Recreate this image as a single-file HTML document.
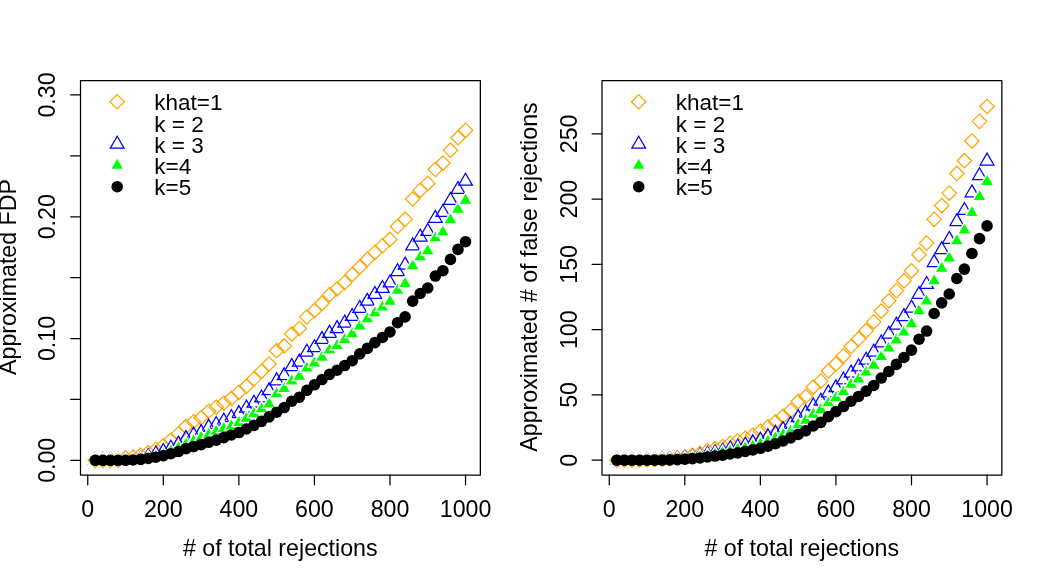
<!DOCTYPE html>
<html><head><meta charset="utf-8"><title>plot</title>
<style>html,body{margin:0;padding:0;background:#fff;}svg{display:block}</style></head>
<body><svg width="1043" height="575" viewBox="0 0 1043 575" style="will-change:transform">
<rect width="1043" height="575" fill="#fff"/>
<g transform="translate(0,0)">
<g fill="none" stroke="#ffa500" stroke-width="1.25">
<path d="M88.10 460.30L95.31 453.09L102.52 460.30L95.31 467.51Z"/>
<path d="M95.65 460.30L102.87 453.09L110.08 460.30L102.87 467.51Z"/>
<path d="M103.21 460.30L110.42 453.09L117.63 460.30L110.42 467.51Z"/>
<path d="M110.76 460.30L117.98 453.09L125.19 460.30L117.98 467.51Z"/>
<path d="M118.32 457.74L125.53 450.53L132.75 457.74L125.53 464.96Z"/>
<path d="M125.88 457.01L133.09 449.80L140.30 457.01L133.09 464.22Z"/>
<path d="M133.43 455.06L140.64 447.85L147.86 455.06L140.64 462.28Z"/>
<path d="M140.99 452.51L148.20 445.29L155.41 452.51L148.20 459.72Z"/>
<path d="M148.54 449.34L155.76 442.13L162.97 449.34L155.76 456.55Z"/>
<path d="M156.10 445.81L163.31 438.60L170.52 445.81L163.31 453.02Z"/>
<path d="M163.65 440.09L170.87 432.87L178.08 440.09L170.87 447.30Z"/>
<path d="M171.21 433.88L178.42 426.66L185.64 433.88L178.42 441.09Z"/>
<path d="M178.77 426.45L185.98 419.24L193.19 426.45L185.98 433.66Z"/>
<path d="M186.32 421.82L193.53 414.61L200.75 421.82L193.53 429.03Z"/>
<path d="M193.88 417.80L201.09 410.59L208.30 417.80L201.09 425.01Z"/>
<path d="M201.43 411.23L208.65 404.01L215.86 411.23L208.65 418.44Z"/>
<path d="M208.99 407.09L216.20 399.87L223.41 407.09L216.20 414.30Z"/>
<path d="M216.55 403.07L223.76 395.86L230.97 403.07L223.76 410.28Z"/>
<path d="M224.10 398.44L231.31 391.23L238.53 398.44L231.31 405.65Z"/>
<path d="M231.66 392.35L238.87 385.14L246.08 392.35L238.87 399.56Z"/>
<path d="M239.21 386.26L246.43 379.05L253.64 386.26L246.43 393.48Z"/>
<path d="M246.77 378.84L253.98 371.62L261.19 378.84L253.98 386.05Z"/>
<path d="M254.32 371.29L261.54 364.07L268.75 371.29L261.54 378.50Z"/>
<path d="M261.88 363.98L269.09 356.77L276.31 363.98L269.09 371.19Z"/>
<path d="M269.44 350.71L276.65 343.49L283.86 350.71L276.65 357.92Z"/>
<path d="M276.99 345.96L284.20 338.75L291.42 345.96L284.20 353.17Z"/>
<path d="M284.55 333.90L291.76 326.69L298.97 333.90L291.76 341.12Z"/>
<path d="M292.10 328.54L299.32 321.33L306.53 328.54L299.32 335.76Z"/>
<path d="M299.66 316.85L306.87 309.64L314.08 316.85L306.87 324.07Z"/>
<path d="M307.22 310.64L314.43 303.43L321.64 310.64L314.43 317.86Z"/>
<path d="M314.77 303.22L321.98 296.00L329.20 303.22L321.98 310.43Z"/>
<path d="M322.33 294.57L329.54 287.36L336.75 294.57L329.54 301.78Z"/>
<path d="M329.88 288.85L337.09 281.64L344.31 288.85L337.09 296.06Z"/>
<path d="M337.44 282.64L344.65 275.43L351.86 282.64L344.65 289.85Z"/>
<path d="M344.99 274.48L352.21 267.27L359.42 274.48L352.21 281.69Z"/>
<path d="M352.55 267.05L359.76 259.84L366.97 267.05L359.76 274.26Z"/>
<path d="M360.11 259.26L367.32 252.05L374.53 259.26L367.32 266.47Z"/>
<path d="M367.66 252.32L374.87 245.10L382.09 252.32L374.87 259.53Z"/>
<path d="M375.22 245.86L382.43 238.65L389.64 245.86L382.43 253.08Z"/>
<path d="M382.77 239.41L389.99 232.20L397.20 239.41L389.99 246.62Z"/>
<path d="M390.33 226.50L397.54 219.29L404.75 226.50L397.54 233.71Z"/>
<path d="M397.88 219.20L405.10 211.98L412.31 219.20L405.10 226.41Z"/>
<path d="M405.44 198.98L412.65 191.77L419.87 198.98L412.65 206.19Z"/>
<path d="M413.00 190.34L420.21 183.12L427.42 190.34L420.21 197.55Z"/>
<path d="M420.55 183.40L427.76 176.18L434.98 183.40L427.76 190.61Z"/>
<path d="M428.11 169.51L435.32 162.30L442.53 169.51L435.32 176.73Z"/>
<path d="M435.66 163.06L442.88 155.85L450.09 163.06L442.88 170.27Z"/>
<path d="M443.22 150.15L450.43 142.94L457.64 150.15L450.43 157.36Z"/>
<path d="M450.78 137.73L457.99 130.52L465.20 137.73L457.99 144.94Z"/>
<path d="M458.33 130.30L465.54 123.09L472.76 130.30L465.54 137.52Z"/>
<path d="M109.99 101.75L117.20 94.54L124.41 101.75L117.20 108.96Z"/>
</g>
<g fill="none" stroke="#0000ff" stroke-width="1.25">
<path d="M95.31 452.37L102.18 464.27L88.44 464.27Z"/>
<path d="M102.87 452.37L109.73 464.27L96.00 464.27Z"/>
<path d="M110.42 452.37L117.29 464.27L103.55 464.27Z"/>
<path d="M117.98 452.37L124.85 464.27L111.11 464.27Z"/>
<path d="M125.53 452.37L132.40 464.27L118.66 464.27Z"/>
<path d="M133.09 452.37L139.96 464.27L126.22 464.27Z"/>
<path d="M140.64 451.03L147.51 462.93L133.78 462.93Z"/>
<path d="M148.20 448.59L155.07 460.49L141.33 460.49Z"/>
<path d="M155.76 446.16L162.62 458.06L148.89 458.06Z"/>
<path d="M163.31 443.60L170.18 455.50L156.44 455.50Z"/>
<path d="M170.87 440.19L177.74 452.09L164.00 452.09Z"/>
<path d="M178.42 436.17L185.29 448.07L171.55 448.07Z"/>
<path d="M185.98 430.57L192.85 442.47L179.11 442.47Z"/>
<path d="M193.53 427.16L200.40 439.06L186.67 439.06Z"/>
<path d="M201.09 424.61L207.96 436.50L194.22 436.50Z"/>
<path d="M208.65 419.37L215.51 431.27L201.78 431.27Z"/>
<path d="M216.20 416.45L223.07 428.34L209.33 428.34Z"/>
<path d="M223.76 413.16L230.63 425.06L216.89 425.06Z"/>
<path d="M231.31 409.63L238.18 421.52L224.45 421.52Z"/>
<path d="M238.87 405.61L245.74 417.51L232.00 417.51Z"/>
<path d="M246.43 400.13L253.29 412.03L239.56 412.03Z"/>
<path d="M253.98 395.26L260.85 407.16L247.11 407.16Z"/>
<path d="M261.54 390.02L268.41 401.92L254.67 401.92Z"/>
<path d="M269.09 382.84L275.96 394.73L262.22 394.73Z"/>
<path d="M276.65 372.85L283.52 384.75L269.78 384.75Z"/>
<path d="M284.20 367.74L291.07 379.64L277.34 379.64Z"/>
<path d="M291.76 358.61L298.63 370.50L284.89 370.50Z"/>
<path d="M299.32 354.10L306.18 366.00L292.45 366.00Z"/>
<path d="M306.87 344.24L313.74 356.13L300.00 356.13Z"/>
<path d="M314.43 339.73L321.30 351.63L307.56 351.63Z"/>
<path d="M321.98 331.57L328.85 343.47L315.11 343.47Z"/>
<path d="M329.54 325.36L336.41 337.26L322.67 337.26Z"/>
<path d="M337.09 320.61L343.96 332.51L330.23 332.51Z"/>
<path d="M344.65 315.13L351.52 327.03L337.78 327.03Z"/>
<path d="M352.21 308.44L359.08 320.33L345.34 320.33Z"/>
<path d="M359.76 300.40L366.63 312.30L352.89 312.30Z"/>
<path d="M367.32 293.34L374.19 305.23L360.45 305.23Z"/>
<path d="M374.87 286.52L381.74 298.41L368.01 298.41Z"/>
<path d="M382.43 280.55L389.30 292.45L375.56 292.45Z"/>
<path d="M389.99 274.95L396.85 286.85L383.12 286.85Z"/>
<path d="M397.54 263.75L404.41 275.64L390.67 275.64Z"/>
<path d="M405.10 257.17L411.97 269.07L398.23 269.07Z"/>
<path d="M412.65 237.93L419.52 249.83L405.78 249.83Z"/>
<path d="M420.21 229.16L427.08 241.06L413.34 241.06Z"/>
<path d="M427.76 223.44L434.63 235.34L420.90 235.34Z"/>
<path d="M435.32 210.41L442.19 222.31L428.45 222.31Z"/>
<path d="M442.88 204.45L449.74 216.34L436.01 216.34Z"/>
<path d="M450.43 192.51L457.30 204.41L443.56 204.41Z"/>
<path d="M457.99 181.55L464.86 193.45L451.12 193.45Z"/>
<path d="M465.54 173.27L472.41 185.17L458.68 185.17Z"/>
<path d="M117.20 136.27L124.07 148.17L110.33 148.17Z"/>
</g>
<g fill="#00ff00" stroke="#fff" stroke-width="1.4">
<path d="M95.31 452.37L102.18 464.27L88.44 464.27Z"/>
<path d="M102.87 452.37L109.73 464.27L96.00 464.27Z"/>
<path d="M110.42 452.37L117.29 464.27L103.55 464.27Z"/>
<path d="M117.98 452.37L124.85 464.27L111.11 464.27Z"/>
<path d="M125.53 452.37L132.40 464.27L118.66 464.27Z"/>
<path d="M133.09 452.37L139.96 464.27L126.22 464.27Z"/>
<path d="M140.64 451.39L147.51 463.29L133.78 463.29Z"/>
<path d="M148.20 450.18L155.07 462.07L141.33 462.07Z"/>
<path d="M155.76 448.59L162.62 460.49L148.89 460.49Z"/>
<path d="M163.31 446.65L170.18 458.54L156.44 458.54Z"/>
<path d="M170.87 443.36L177.74 455.25L164.00 455.25Z"/>
<path d="M178.42 439.95L185.29 451.84L171.55 451.84Z"/>
<path d="M185.98 436.54L192.85 448.44L179.11 448.44Z"/>
<path d="M193.53 433.13L200.40 445.03L186.67 445.03Z"/>
<path d="M201.09 429.72L207.96 441.62L194.22 441.62Z"/>
<path d="M208.65 426.55L215.51 438.45L201.78 438.45Z"/>
<path d="M216.20 423.51L223.07 435.41L209.33 435.41Z"/>
<path d="M223.76 420.71L230.63 432.61L216.89 432.61Z"/>
<path d="M231.31 418.03L238.18 429.93L224.45 429.93Z"/>
<path d="M238.87 414.74L245.74 426.64L232.00 426.64Z"/>
<path d="M246.43 410.60L253.29 422.50L239.56 422.50Z"/>
<path d="M253.98 405.73L260.85 417.63L247.11 417.63Z"/>
<path d="M261.54 401.10L268.41 413.00L254.67 413.00Z"/>
<path d="M269.09 396.23L275.96 408.13L262.22 408.13Z"/>
<path d="M276.65 386.00L283.52 397.90L269.78 397.90Z"/>
<path d="M284.20 380.89L291.07 392.79L277.34 392.79Z"/>
<path d="M291.76 373.22L298.63 385.12L284.89 385.12Z"/>
<path d="M299.32 368.59L306.18 380.49L292.45 380.49Z"/>
<path d="M306.87 360.31L313.74 372.21L300.00 372.21Z"/>
<path d="M314.43 355.20L321.30 367.09L307.56 367.09Z"/>
<path d="M321.98 349.47L328.85 361.37L315.11 361.37Z"/>
<path d="M329.54 342.05L336.41 353.94L322.67 353.94Z"/>
<path d="M337.09 337.78L343.96 349.68L330.23 349.68Z"/>
<path d="M344.65 331.82L351.52 343.71L337.78 343.71Z"/>
<path d="M352.21 325.97L359.08 337.87L345.34 337.87Z"/>
<path d="M359.76 318.30L366.63 330.20L352.89 330.20Z"/>
<path d="M367.32 311.12L374.19 323.01L360.45 323.01Z"/>
<path d="M374.87 305.03L381.74 316.92L368.01 316.92Z"/>
<path d="M382.43 299.43L389.30 311.32L375.56 311.32Z"/>
<path d="M389.99 293.58L396.85 305.48L383.12 305.48Z"/>
<path d="M397.54 282.62L404.41 294.52L390.67 294.52Z"/>
<path d="M405.10 275.80L411.97 287.70L398.23 287.70Z"/>
<path d="M412.65 258.02L419.52 269.92L405.78 269.92Z"/>
<path d="M420.21 249.01L427.08 260.91L413.34 260.91Z"/>
<path d="M427.76 243.05L434.63 254.94L420.90 254.94Z"/>
<path d="M435.32 230.14L442.19 242.04L428.45 242.04Z"/>
<path d="M442.88 224.17L449.74 236.07L436.01 236.07Z"/>
<path d="M450.43 212.00L457.30 223.89L443.56 223.89Z"/>
<path d="M457.99 201.52L464.86 213.42L451.12 213.42Z"/>
<path d="M465.54 192.51L472.41 204.41L458.68 204.41Z"/>
<path d="M117.20 157.47L124.07 169.37L110.33 169.37Z"/>
</g>
<g fill="#000" stroke="none">
<circle cx="95.31" cy="460.30" r="5.8"/>
<circle cx="102.87" cy="460.30" r="5.8"/>
<circle cx="110.42" cy="460.30" r="5.8"/>
<circle cx="117.98" cy="460.30" r="5.8"/>
<circle cx="125.53" cy="460.30" r="5.8"/>
<circle cx="133.09" cy="459.93" r="5.8"/>
<circle cx="140.64" cy="459.33" r="5.8"/>
<circle cx="148.20" cy="458.47" r="5.8"/>
<circle cx="155.76" cy="457.26" r="5.8"/>
<circle cx="163.31" cy="455.67" r="5.8"/>
<circle cx="170.87" cy="453.72" r="5.8"/>
<circle cx="178.42" cy="451.53" r="5.8"/>
<circle cx="185.98" cy="448.61" r="5.8"/>
<circle cx="193.53" cy="446.54" r="5.8"/>
<circle cx="201.09" cy="444.59" r="5.8"/>
<circle cx="208.65" cy="442.28" r="5.8"/>
<circle cx="216.20" cy="440.09" r="5.8"/>
<circle cx="223.76" cy="437.65" r="5.8"/>
<circle cx="231.31" cy="434.97" r="5.8"/>
<circle cx="238.87" cy="432.54" r="5.8"/>
<circle cx="246.43" cy="429.01" r="5.8"/>
<circle cx="253.98" cy="425.35" r="5.8"/>
<circle cx="261.54" cy="421.33" r="5.8"/>
<circle cx="269.09" cy="416.83" r="5.8"/>
<circle cx="276.65" cy="412.20" r="5.8"/>
<circle cx="284.20" cy="407.57" r="5.8"/>
<circle cx="291.76" cy="401.24" r="5.8"/>
<circle cx="299.32" cy="397.22" r="5.8"/>
<circle cx="306.87" cy="390.28" r="5.8"/>
<circle cx="314.43" cy="384.80" r="5.8"/>
<circle cx="321.98" cy="379.57" r="5.8"/>
<circle cx="329.54" cy="374.33" r="5.8"/>
<circle cx="337.09" cy="370.19" r="5.8"/>
<circle cx="344.65" cy="365.56" r="5.8"/>
<circle cx="352.21" cy="360.69" r="5.8"/>
<circle cx="359.76" cy="353.87" r="5.8"/>
<circle cx="367.32" cy="348.39" r="5.8"/>
<circle cx="374.87" cy="342.67" r="5.8"/>
<circle cx="382.43" cy="337.43" r="5.8"/>
<circle cx="389.99" cy="331.95" r="5.8"/>
<circle cx="397.54" cy="322.70" r="5.8"/>
<circle cx="405.10" cy="316.85" r="5.8"/>
<circle cx="412.65" cy="301.15" r="5.8"/>
<circle cx="420.21" cy="293.48" r="5.8"/>
<circle cx="427.76" cy="288.00" r="5.8"/>
<circle cx="435.32" cy="276.06" r="5.8"/>
<circle cx="442.88" cy="270.70" r="5.8"/>
<circle cx="450.43" cy="259.38" r="5.8"/>
<circle cx="457.99" cy="249.39" r="5.8"/>
<circle cx="465.54" cy="241.72" r="5.8"/>
<circle cx="117.20" cy="186.70" r="5.8"/>
</g>
<g fill="none" stroke="#000" stroke-width="1.25" stroke-linejoin="round" stroke-linecap="round">
<rect x="80.5" y="80.5" width="399.85" height="394.5"/>
<path d="M87.75 475.0V484.8"/>
<path d="M163.31 475.0V484.8"/>
<path d="M238.87 475.0V484.8"/>
<path d="M314.43 475.0V484.8"/>
<path d="M389.99 475.0V484.8"/>
<path d="M465.54 475.0V484.8"/>
<path d="M80.5 460.30H70.7"/>
<path d="M80.5 399.42H70.7"/>
<path d="M80.5 338.53H70.7"/>
<path d="M80.5 277.64H70.7"/>
<path d="M80.5 216.76H70.7"/>
<path d="M80.5 155.88H70.7"/>
<path d="M80.5 94.99H70.7"/>
</g>
<g font-family="Liberation Sans, sans-serif" font-size="23.2" fill="#000" text-anchor="middle">
<text x="87.75" y="516.8">0</text>
<text x="163.31" y="516.8">200</text>
<text x="238.87" y="516.8">400</text>
<text x="314.43" y="516.8">600</text>
<text x="389.99" y="516.8">800</text>
<text x="465.54" y="516.8">1000</text>
<text transform="translate(55,460.30) rotate(-90)">0.00</text>
<text transform="translate(55,338.53) rotate(-90)">0.10</text>
<text transform="translate(55,216.76) rotate(-90)">0.20</text>
<text transform="translate(55,94.99) rotate(-90)">0.30</text>
<text x="280.3" y="555.6"># of total rejections</text>
<text transform="translate(15.9,277.0) rotate(-90)">Approximated FDP</text>
</g>
<g font-family="Liberation Sans, sans-serif" font-size="22.5" fill="#000">
<text x="154.3" y="110.40">khat=1</text>
<text x="154.3" y="131.55">k = 2</text>
<text x="154.3" y="152.70">k = 3</text>
<text x="154.3" y="173.85">k=4</text>
<text x="154.3" y="195.00">k=5</text>
</g>
</g>
<g transform="translate(521.5,0)">
<g fill="none" stroke="#ffa500" stroke-width="1.25">
<path d="M88.10 460.20L95.31 452.99L102.52 460.20L95.31 467.41Z"/>
<path d="M95.65 460.20L102.87 452.99L110.08 460.20L102.87 467.41Z"/>
<path d="M103.21 460.20L110.42 452.99L117.63 460.20L110.42 467.41Z"/>
<path d="M110.76 460.20L117.98 452.99L125.19 460.20L117.98 467.41Z"/>
<path d="M118.32 459.93L125.53 452.71L132.75 459.93L125.53 467.14Z"/>
<path d="M125.88 459.78L133.09 452.56L140.30 459.78L133.09 466.99Z"/>
<path d="M133.43 459.41L140.64 452.20L147.86 459.41L140.64 466.63Z"/>
<path d="M140.99 458.86L148.20 451.65L155.41 458.86L148.20 466.08Z"/>
<path d="M148.54 458.09L155.76 450.87L162.97 458.09L155.76 465.30Z"/>
<path d="M156.10 457.09L163.31 449.88L170.52 457.09L163.31 464.31Z"/>
<path d="M163.65 455.43L170.87 448.22L178.08 455.43L170.87 462.65Z"/>
<path d="M171.21 453.40L178.42 446.19L185.64 453.40L178.42 460.62Z"/>
<path d="M178.77 450.77L185.98 443.55L193.19 450.77L185.98 457.98Z"/>
<path d="M186.32 448.65L193.53 441.44L200.75 448.65L193.53 455.86Z"/>
<path d="M193.88 446.53L201.09 439.32L208.30 446.53L201.09 453.75Z"/>
<path d="M201.43 443.37L208.65 436.16L215.86 443.37L208.65 450.58Z"/>
<path d="M208.99 440.81L216.20 433.59L223.41 440.81L216.20 448.02Z"/>
<path d="M216.55 438.12L223.76 430.90L230.97 438.12L223.76 445.33Z"/>
<path d="M224.10 435.00L231.31 427.79L238.53 435.00L231.31 442.22Z"/>
<path d="M231.66 431.07L238.87 423.86L246.08 431.07L238.87 438.28Z"/>
<path d="M239.21 426.87L246.43 419.66L253.64 426.87L246.43 434.08Z"/>
<path d="M246.77 421.78L253.98 414.57L261.19 421.78L253.98 428.99Z"/>
<path d="M254.32 416.31L261.54 409.10L268.75 416.31L261.54 423.52Z"/>
<path d="M261.88 410.64L269.09 403.43L276.31 410.64L269.09 417.86Z"/>
<path d="M269.44 401.47L276.65 394.25L283.86 401.47L276.65 408.68Z"/>
<path d="M276.99 396.47L284.20 389.26L291.42 396.47L284.20 403.68Z"/>
<path d="M284.55 387.04L291.76 379.83L298.97 387.04L291.76 394.25Z"/>
<path d="M292.10 381.12L299.32 373.90L306.53 381.12L299.32 388.33Z"/>
<path d="M299.66 371.02L306.87 363.81L314.08 371.02L306.87 378.24Z"/>
<path d="M307.22 363.95L314.43 356.74L321.64 363.95L314.43 371.17Z"/>
<path d="M314.77 355.81L321.98 348.60L329.20 355.81L321.98 363.02Z"/>
<path d="M322.33 346.51L329.54 339.30L336.75 346.51L329.54 353.72Z"/>
<path d="M329.88 338.91L337.09 331.70L344.31 338.91L337.09 346.12Z"/>
<path d="M337.44 330.71L344.65 323.50L351.86 330.71L344.65 337.92Z"/>
<path d="M344.99 321.85L352.21 314.64L359.42 321.85L352.21 329.06Z"/>
<path d="M352.55 311.06L359.76 303.85L366.97 311.06L359.76 318.28Z"/>
<path d="M360.11 300.74L367.32 293.53L374.53 300.74L367.32 307.95Z"/>
<path d="M367.66 290.77L374.87 283.56L382.09 290.77L374.87 297.99Z"/>
<path d="M375.22 280.92L382.43 273.71L389.64 280.92L382.43 288.13Z"/>
<path d="M382.77 270.79L389.99 263.58L397.20 270.79L389.99 278.00Z"/>
<path d="M390.33 254.71L397.54 247.50L404.75 254.71L397.54 261.92Z"/>
<path d="M397.88 243.12L405.10 235.91L412.31 243.12L405.10 250.33Z"/>
<path d="M405.44 219.32L412.65 212.11L419.87 219.32L412.65 226.53Z"/>
<path d="M413.00 205.56L420.21 198.35L427.42 205.56L420.21 212.77Z"/>
<path d="M420.55 193.08L427.76 185.87L434.98 193.08L427.76 200.29Z"/>
<path d="M428.11 173.45L435.32 166.24L442.53 173.45L435.32 180.67Z"/>
<path d="M435.66 160.72L442.88 153.50L450.09 160.72L442.88 167.93Z"/>
<path d="M443.22 141.06L450.43 133.85L457.64 141.06L450.43 148.28Z"/>
<path d="M450.78 121.37L457.99 114.15L465.20 121.37L457.99 128.58Z"/>
<path d="M458.33 106.49L465.54 99.28L472.76 106.49L465.54 113.70Z"/>
<path d="M109.99 101.75L117.20 94.54L124.41 101.75L117.20 108.96Z"/>
</g>
<g fill="none" stroke="#0000ff" stroke-width="1.25">
<path d="M95.31 452.27L102.18 464.17L88.44 464.17Z"/>
<path d="M102.87 452.27L109.73 464.17L96.00 464.17Z"/>
<path d="M110.42 452.27L117.29 464.17L103.55 464.17Z"/>
<path d="M117.98 452.27L124.85 464.17L111.11 464.17Z"/>
<path d="M125.53 452.27L132.40 464.17L118.66 464.17Z"/>
<path d="M133.09 452.27L139.96 464.17L126.22 464.17Z"/>
<path d="M140.64 452.07L147.51 463.96L133.78 463.96Z"/>
<path d="M148.20 451.62L155.07 463.52L141.33 463.52Z"/>
<path d="M155.76 451.07L162.62 462.97L148.89 462.97Z"/>
<path d="M163.31 450.39L170.18 462.29L156.44 462.29Z"/>
<path d="M170.87 449.40L177.74 461.29L164.00 461.29Z"/>
<path d="M178.42 448.10L185.29 460.00L171.55 460.00Z"/>
<path d="M185.98 446.19L192.85 458.09L179.11 458.09Z"/>
<path d="M193.53 444.70L200.40 456.60L186.67 456.60Z"/>
<path d="M201.09 443.34L207.96 455.24L194.22 455.24Z"/>
<path d="M208.65 440.95L215.51 452.85L201.78 452.85Z"/>
<path d="M216.20 439.18L223.07 451.07L209.33 451.07Z"/>
<path d="M223.76 437.14L230.63 449.04L216.89 449.04Z"/>
<path d="M231.31 434.86L238.18 446.76L224.45 446.76Z"/>
<path d="M238.87 432.22L245.74 444.12L232.00 444.12Z"/>
<path d="M246.43 428.75L253.29 440.65L239.56 440.65Z"/>
<path d="M253.98 425.33L260.85 437.23L247.11 437.23Z"/>
<path d="M261.54 421.53L268.41 433.43L254.67 433.43Z"/>
<path d="M269.09 416.50L275.96 428.39L262.22 428.39Z"/>
<path d="M276.65 409.65L283.52 421.55L269.78 421.55Z"/>
<path d="M284.20 405.10L291.07 417.00L277.34 417.00Z"/>
<path d="M291.76 398.00L298.63 409.90L284.89 409.90Z"/>
<path d="M299.32 393.28L306.18 405.18L292.45 405.18Z"/>
<path d="M306.87 385.05L313.74 396.94L300.00 396.94Z"/>
<path d="M314.43 379.83L321.30 391.73L307.56 391.73Z"/>
<path d="M321.98 371.99L328.85 383.89L315.11 383.89Z"/>
<path d="M329.54 365.14L336.41 377.04L322.67 377.04Z"/>
<path d="M337.09 359.06L343.96 370.96L330.23 370.96Z"/>
<path d="M344.65 352.24L351.52 364.14L337.78 364.14Z"/>
<path d="M352.21 344.28L359.08 356.17L345.34 356.17Z"/>
<path d="M359.76 334.99L366.63 346.89L352.89 346.89Z"/>
<path d="M367.32 326.13L374.19 338.03L360.45 338.03Z"/>
<path d="M374.87 317.17L381.74 329.06L368.01 329.06Z"/>
<path d="M382.43 308.62L389.30 320.52L375.56 320.52Z"/>
<path d="M389.99 300.13L396.85 312.03L383.12 312.03Z"/>
<path d="M397.54 286.49L404.41 298.38L390.67 298.38Z"/>
<path d="M405.10 276.52L411.97 288.42L398.23 288.42Z"/>
<path d="M412.65 254.60L419.52 266.50L405.78 266.50Z"/>
<path d="M420.21 241.74L427.08 253.63L413.34 253.63Z"/>
<path d="M427.76 231.43L434.63 243.33L420.90 243.33Z"/>
<path d="M435.32 213.67L442.19 225.57L428.45 225.57Z"/>
<path d="M442.88 202.47L449.74 214.37L436.01 214.37Z"/>
<path d="M450.43 184.88L457.30 196.78L443.56 196.78Z"/>
<path d="M457.99 167.80L464.86 179.69L451.12 179.69Z"/>
<path d="M465.54 153.12L472.41 165.01L458.68 165.01Z"/>
<path d="M117.20 136.27L124.07 148.17L110.33 148.17Z"/>
</g>
<g fill="#00ff00" stroke="#fff" stroke-width="1.4">
<path d="M95.31 452.27L102.18 464.17L88.44 464.17Z"/>
<path d="M102.87 452.27L109.73 464.17L96.00 464.17Z"/>
<path d="M110.42 452.27L117.29 464.17L103.55 464.17Z"/>
<path d="M117.98 452.27L124.85 464.17L111.11 464.17Z"/>
<path d="M125.53 452.27L132.40 464.17L118.66 464.17Z"/>
<path d="M133.09 452.27L139.96 464.17L126.22 464.17Z"/>
<path d="M140.64 452.12L147.51 464.02L133.78 464.02Z"/>
<path d="M148.20 451.89L155.07 463.79L141.33 463.79Z"/>
<path d="M155.76 451.54L162.62 463.44L148.89 463.44Z"/>
<path d="M163.31 451.04L170.18 462.94L156.44 462.94Z"/>
<path d="M170.87 450.14L177.74 462.04L164.00 462.04Z"/>
<path d="M178.42 449.07L185.29 460.97L171.55 460.97Z"/>
<path d="M185.98 447.86L192.85 459.75L179.11 459.75Z"/>
<path d="M193.53 446.49L200.40 458.39L186.67 458.39Z"/>
<path d="M201.09 444.99L207.96 456.88L194.22 456.88Z"/>
<path d="M208.65 443.41L215.51 455.31L201.78 455.31Z"/>
<path d="M216.20 441.75L223.07 453.65L209.33 453.65Z"/>
<path d="M223.76 440.05L230.63 451.95L216.89 451.95Z"/>
<path d="M231.31 438.28L238.18 450.18L224.45 450.18Z"/>
<path d="M238.87 436.14L245.74 448.03L232.00 448.03Z"/>
<path d="M246.43 433.47L253.29 445.36L239.56 445.36Z"/>
<path d="M253.98 430.27L260.85 442.17L247.11 442.17Z"/>
<path d="M261.54 426.99L268.41 438.89L254.67 438.89Z"/>
<path d="M269.09 423.39L275.96 435.28L262.22 435.28Z"/>
<path d="M276.65 416.70L283.52 428.60L269.78 428.60Z"/>
<path d="M284.20 412.43L291.07 424.33L277.34 424.33Z"/>
<path d="M291.76 406.46L298.63 418.35L284.89 418.35Z"/>
<path d="M299.32 401.98L306.18 413.88L292.45 413.88Z"/>
<path d="M306.87 395.04L313.74 406.94L300.00 406.94Z"/>
<path d="M314.43 389.78L321.30 401.67L307.56 401.67Z"/>
<path d="M321.98 383.89L328.85 395.79L315.11 395.79Z"/>
<path d="M329.54 376.59L336.41 388.48L322.67 388.48Z"/>
<path d="M337.09 371.21L343.96 383.10L330.23 383.10Z"/>
<path d="M344.65 364.40L351.52 376.30L337.78 376.30Z"/>
<path d="M352.21 357.43L359.08 369.33L345.34 369.33Z"/>
<path d="M359.76 348.80L366.63 360.70L352.89 360.70Z"/>
<path d="M367.32 340.23L374.19 352.13L360.45 352.13Z"/>
<path d="M374.87 332.24L381.74 344.14L368.01 344.14Z"/>
<path d="M382.43 324.40L389.30 336.30L375.56 336.30Z"/>
<path d="M389.99 316.11L396.85 328.01L383.12 328.01Z"/>
<path d="M397.54 303.07L404.41 314.97L390.67 314.97Z"/>
<path d="M405.10 293.30L411.97 305.19L398.23 305.19Z"/>
<path d="M412.65 273.12L419.52 285.02L405.78 285.02Z"/>
<path d="M420.21 260.46L427.08 272.35L413.34 272.35Z"/>
<path d="M427.76 250.34L434.63 262.24L420.90 262.24Z"/>
<path d="M435.32 233.13L442.19 245.02L428.45 245.02Z"/>
<path d="M442.88 222.35L449.74 234.25L436.01 234.25Z"/>
<path d="M450.43 204.93L457.30 216.82L443.56 216.82Z"/>
<path d="M457.99 188.78L464.86 200.67L451.12 200.67Z"/>
<path d="M465.54 173.74L472.41 185.64L458.68 185.64Z"/>
<path d="M117.20 157.47L124.07 169.37L110.33 169.37Z"/>
</g>
<g fill="#000" stroke="none">
<circle cx="95.31" cy="460.20" r="5.8"/>
<circle cx="102.87" cy="460.20" r="5.8"/>
<circle cx="110.42" cy="460.20" r="5.8"/>
<circle cx="117.98" cy="460.20" r="5.8"/>
<circle cx="125.53" cy="460.20" r="5.8"/>
<circle cx="133.09" cy="460.15" r="5.8"/>
<circle cx="140.64" cy="460.05" r="5.8"/>
<circle cx="148.20" cy="459.89" r="5.8"/>
<circle cx="155.76" cy="459.61" r="5.8"/>
<circle cx="163.31" cy="459.21" r="5.8"/>
<circle cx="170.87" cy="458.65" r="5.8"/>
<circle cx="178.42" cy="457.94" r="5.8"/>
<circle cx="185.98" cy="456.94" r="5.8"/>
<circle cx="193.53" cy="456.07" r="5.8"/>
<circle cx="201.09" cy="455.15" r="5.8"/>
<circle cx="208.65" cy="454.02" r="5.8"/>
<circle cx="216.20" cy="452.83" r="5.8"/>
<circle cx="223.76" cy="451.46" r="5.8"/>
<circle cx="231.31" cy="449.88" r="5.8"/>
<circle cx="238.87" cy="448.30" r="5.8"/>
<circle cx="246.43" cy="446.11" r="5.8"/>
<circle cx="253.98" cy="443.72" r="5.8"/>
<circle cx="261.54" cy="440.99" r="5.8"/>
<circle cx="269.09" cy="437.83" r="5.8"/>
<circle cx="276.65" cy="434.42" r="5.8"/>
<circle cx="284.20" cy="430.81" r="5.8"/>
<circle cx="291.76" cy="426.02" r="5.8"/>
<circle cx="299.32" cy="422.34" r="5.8"/>
<circle cx="306.87" cy="416.67" r="5.8"/>
<circle cx="314.43" cy="411.65" r="5.8"/>
<circle cx="321.98" cy="406.55" r="5.8"/>
<circle cx="329.54" cy="401.23" r="5.8"/>
<circle cx="337.09" cy="396.45" r="5.8"/>
<circle cx="344.65" cy="391.15" r="5.8"/>
<circle cx="352.21" cy="385.46" r="5.8"/>
<circle cx="359.76" cy="378.07" r="5.8"/>
<circle cx="367.32" cy="371.44" r="5.8"/>
<circle cx="374.87" cy="364.38" r="5.8"/>
<circle cx="382.43" cy="357.48" r="5.8"/>
<circle cx="389.99" cy="350.15" r="5.8"/>
<circle cx="397.54" cy="339.26" r="5.8"/>
<circle cx="405.10" cy="331.05" r="5.8"/>
<circle cx="412.65" cy="313.49" r="5.8"/>
<circle cx="420.21" cy="302.85" r="5.8"/>
<circle cx="427.76" cy="293.98" r="5.8"/>
<circle cx="435.32" cy="278.52" r="5.8"/>
<circle cx="442.88" cy="269.17" r="5.8"/>
<circle cx="450.43" cy="253.46" r="5.8"/>
<circle cx="457.99" cy="238.66" r="5.8"/>
<circle cx="465.54" cy="225.92" r="5.8"/>
<circle cx="117.20" cy="186.70" r="5.8"/>
</g>
<g fill="none" stroke="#000" stroke-width="1.25" stroke-linejoin="round" stroke-linecap="round">
<rect x="80.5" y="80.5" width="399.85" height="394.5"/>
<path d="M87.75 475.0V484.8"/>
<path d="M163.31 475.0V484.8"/>
<path d="M238.87 475.0V484.8"/>
<path d="M314.43 475.0V484.8"/>
<path d="M389.99 475.0V484.8"/>
<path d="M465.54 475.0V484.8"/>
<path d="M80.5 460.20H70.7"/>
<path d="M80.5 394.94H70.7"/>
<path d="M80.5 329.68H70.7"/>
<path d="M80.5 264.42H70.7"/>
<path d="M80.5 199.16H70.7"/>
<path d="M80.5 133.90H70.7"/>
</g>
<g font-family="Liberation Sans, sans-serif" font-size="23.2" fill="#000" text-anchor="middle">
<text x="87.75" y="516.8">0</text>
<text x="163.31" y="516.8">200</text>
<text x="238.87" y="516.8">400</text>
<text x="314.43" y="516.8">600</text>
<text x="389.99" y="516.8">800</text>
<text x="465.54" y="516.8">1000</text>
<text transform="translate(55,460.20) rotate(-90)">0</text>
<text transform="translate(55,394.94) rotate(-90)">50</text>
<text transform="translate(55,329.68) rotate(-90)">100</text>
<text transform="translate(55,264.42) rotate(-90)">150</text>
<text transform="translate(55,199.16) rotate(-90)">200</text>
<text transform="translate(55,133.90) rotate(-90)">250</text>
<text x="280.3" y="555.6"># of total rejections</text>
<text transform="translate(15.9,277.0) rotate(-90)">Approximated # of false rejections</text>
</g>
<g font-family="Liberation Sans, sans-serif" font-size="22.5" fill="#000">
<text x="154.3" y="110.40">khat=1</text>
<text x="154.3" y="131.55">k = 2</text>
<text x="154.3" y="152.70">k = 3</text>
<text x="154.3" y="173.85">k=4</text>
<text x="154.3" y="195.00">k=5</text>
</g>
</g>
</svg></body></html>
